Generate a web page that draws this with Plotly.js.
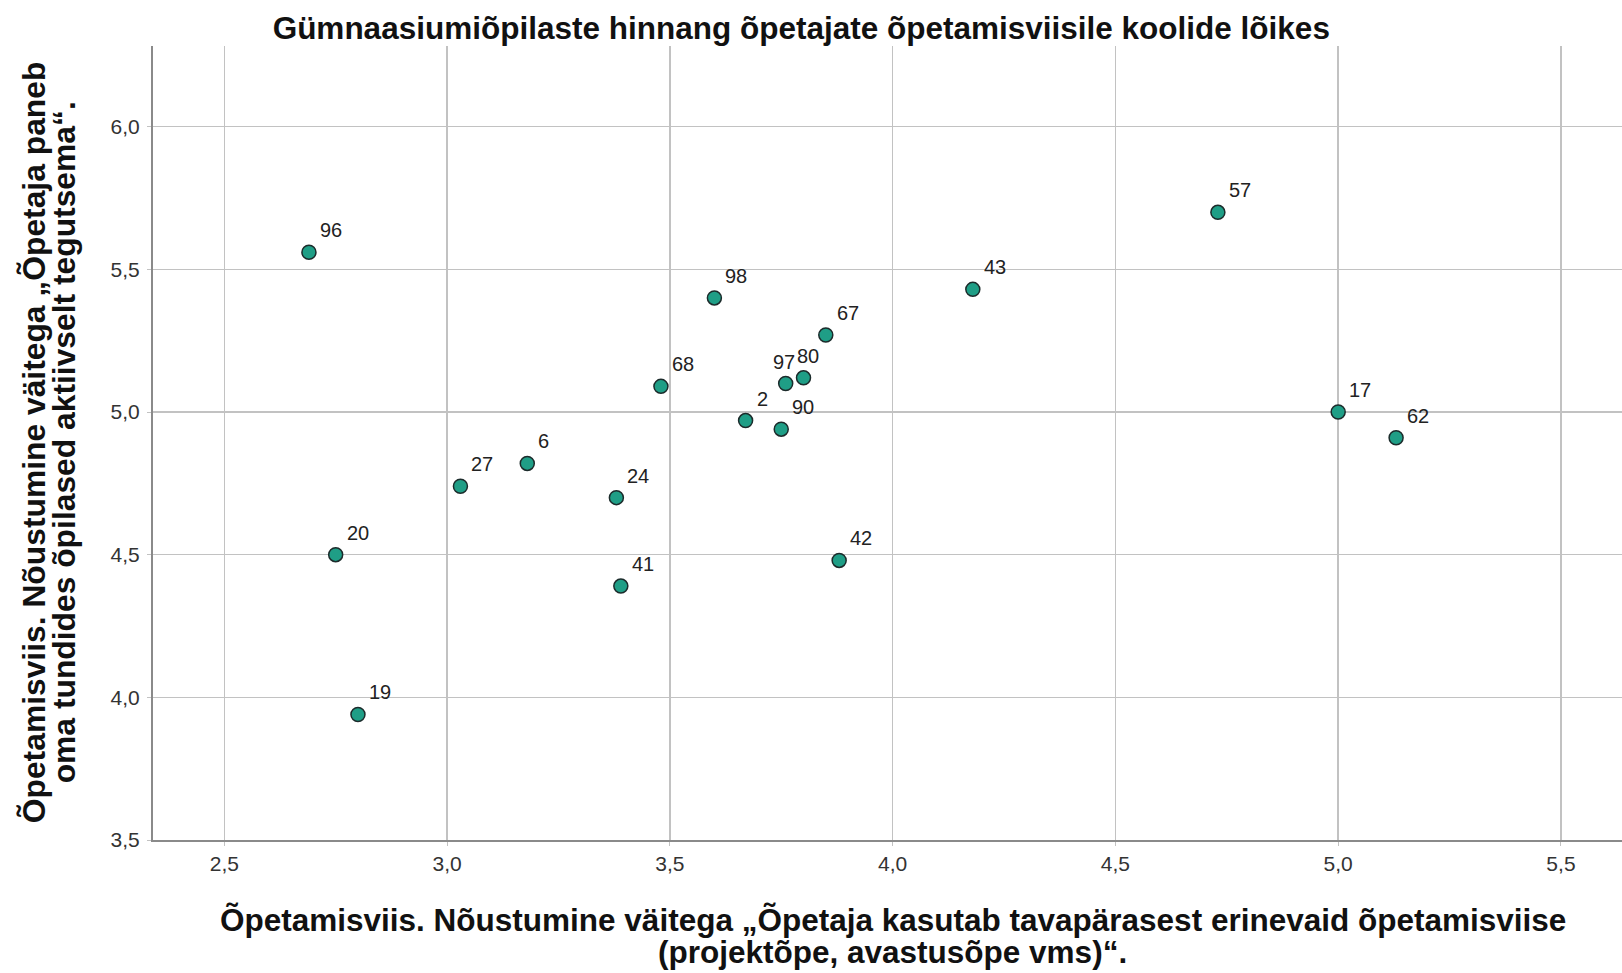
<!DOCTYPE html>
<html>
<head>
<meta charset="utf-8">
<script src="https://cdn.plot.ly/plotly-3.0.1.min.js"></script>
<style>html,body{margin:0;padding:0;background:#fff;}#chart{width:1622px;height:973px;}</style>
</head>
<body>
<div id="chart"></div>
<script>
// School IDs (point labels)
const schools = ['96','57','98','43','67','68','97','80','2','90','17','62','27','6','24','20','41','42','19'];
// X: agreement "Õpetaja kasutab tavapärasest erinevaid õpetamisviise"
const xValues = [2.69,4.73,3.60,4.18,3.85,3.48,3.76,3.80,3.67,3.75,5.00,5.13,3.03,3.18,3.38,2.75,3.39,3.88,2.80];
// Y: agreement "Õpetaja paneb oma tundides õpilased aktiivselt tegutsema"
const yValues = [5.56,5.70,5.40,5.43,5.27,5.09,5.10,5.12,4.97,4.94,5.00,4.91,4.74,4.82,4.70,4.50,4.39,4.48,3.94];
const xTickVals = [2.5,3.0,3.5,4.0,4.5,5.0,5.5];
const xTickText = ['2,5','3,0','3,5','4,0','4,5','5,0','5,5'];
const yTickVals = [3.5,4.0,4.5,5.0,5.5,6.0];
const yTickText = ['3,5','4,0','4,5','5,0','5,5','6,0'];
const chartTitle = 'Gümnaasiumiõpilaste hinnang õpetajate õpetamisviisile koolide lõikes';
const xTitleLines = ['Õpetamisviis. Nõustumine väitega „Õpetaja kasutab tavapärasest erinevaid õpetamisviise', '(projektõpe, avastusõpe vms)“.'];
const yTitleLines = ['Õpetamisviis. Nõustumine väitega „Õpetaja paneb', 'oma tundides õpilased aktiivselt tegutsema“.'];

const font = '"Liberation Sans", Arial, sans-serif';

// label placement tweaks for overlapping labels
const labelTweak = {'97': {xanchor: 'right', xshift: 11}, '80': {xanchor: 'left', xshift: -9}};

const annotations = schools.map((s, i) => {
  const t = labelTweak[s] || {xanchor: 'left', xshift: 9};
  return {
    x: xValues[i], y: yValues[i], xref: 'x', yref: 'y',
    text: s, showarrow: false,
    xanchor: t.xanchor, yanchor: 'middle', xshift: t.xshift, yshift: 22,
    font: {family: font, size: 20, color: '#222'}
  };
});

// axis titles (two tightly spaced lines each)
const xTitlePos = [-0.101, -0.1405];
xTitleLines.forEach((line, i) => annotations.push({
  xref: 'paper', yref: 'paper', x: 0.5037, y: xTitlePos[i],
  xanchor: 'center', yanchor: 'middle', showarrow: false,
  text: '<b>' + line + '</b>', font: {family: font, size: 31.5, color: '#111'}
}));
const yTitlePos = [-0.081, -0.0605];
yTitleLines.forEach((line, i) => annotations.push({
  xref: 'paper', yref: 'paper', x: yTitlePos[i], y: 0.501,
  xanchor: 'center', yanchor: 'middle', showarrow: false, textangle: -90,
  text: '<b>' + line + '</b>', font: {family: font, size: 31.8, color: '#111'}
}));

const trace = {
  type: 'scatter', mode: 'markers',
  x: xValues, y: yValues, text: schools,
  marker: {size: 14, color: '#1f9e86', line: {color: '#1c2b2b', width: 1.5}},
  hoverinfo: 'text+x+y'
};

const layout = {
  width: 1622, height: 973,
  margin: {l: 153, r: 0, t: 46, b: 133},
  paper_bgcolor: '#fff', plot_bgcolor: '#fff',
  showlegend: false,
  title: {
    text: '<b>' + chartTitle + '</b>',
    font: {family: font, size: 31.5, color: '#111'},
    x: 0.494, xanchor: 'center', y: 0.971, yanchor: 'middle'
  },
  xaxis: {
    range: [2.34, 5.637],
    tickvals: xTickVals, ticktext: xTickText,
    showgrid: true, gridcolor: '#c2c2c2', gridwidth: 1.5,
    showline: true, linecolor: '#8a8a8a', linewidth: 2,
    ticks: 'outside', ticklen: 4, tickcolor: '#c2c2c2',
    zeroline: false,
    tickfont: {family: font, size: 21, color: '#333'}
  },
  yaxis: {
    range: [3.5, 6.283],
    tickvals: yTickVals, ticktext: yTickText,
    showgrid: true, gridcolor: '#c2c2c2', gridwidth: 1.5,
    showline: true, linecolor: '#8a8a8a', linewidth: 2,
    ticks: 'outside', ticklen: 4, tickcolor: '#c2c2c2',
    ticklabelstandoff: 3,
    zeroline: false,
    tickfont: {family: font, size: 21, color: '#333'}
  },
  annotations: annotations
};

Plotly.newPlot('chart', [trace], layout, {displayModeBar: false, staticPlot: true});
</script>
</body>
</html>
